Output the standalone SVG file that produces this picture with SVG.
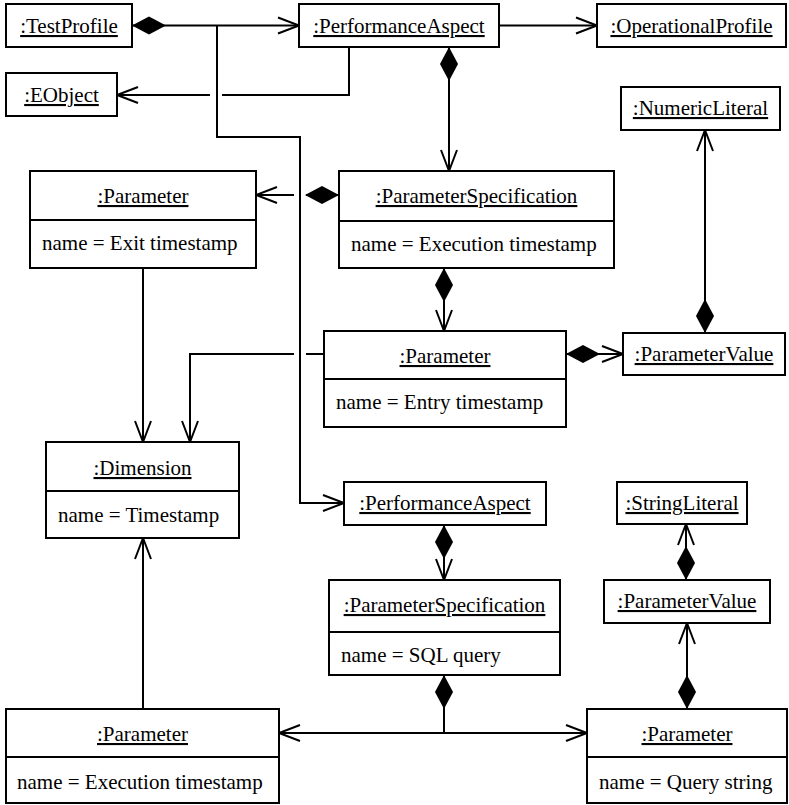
<svg xmlns="http://www.w3.org/2000/svg" width="789" height="805" viewBox="0 0 789 805">
  <defs>
    <style>
      .box { fill: #fff; stroke: #000; stroke-width: 2; }
      .sep { stroke: #000; stroke-width: 2; }
      .name { font-family: "Liberation Serif", "Times New Roman", serif; font-size: 21px; fill: #000; text-anchor: middle; text-decoration: underline; }
      .attr { font-family: "Liberation Serif", "Times New Roman", serif; font-size: 21px; fill: #000; }
      .link { fill: none; stroke: #000; stroke-width: 2; }
      .owned { marker-start: url(#diamond); }
      .nav { marker-end: url(#arrow); }
    </style>
    <!-- open navigability arrowhead -->
    <marker id="arrow" markerUnits="userSpaceOnUse" markerWidth="30" markerHeight="30" refX="0" refY="0" orient="auto" overflow="visible">
      <path d="M-21,-8 L0,0 L-21,8" fill="none" stroke="#000" stroke-width="2"/>
    </marker>
    <!-- filled composition diamond -->
    <marker id="diamond" markerUnits="userSpaceOnUse" markerWidth="40" markerHeight="20" refX="0" refY="0" orient="auto" overflow="visible">
      <path d="M0,0 L17,-9 L34,0 L17,9 Z" fill="#000" stroke="none"/>
    </marker>
  </defs>

  <rect width="789" height="805" fill="#fff"/>

  <!-- connectors -->
  <g id="connectors">
    <path class="link owned nav" d="M132,25.5 L299,25.5"/>
    <path class="link nav" d="M217,25.5 L217,137 L300,137 L300,503 L344,503"/>
    <path class="link" d="M349,47 L349,95 L222,95"/>
    <path class="link nav" d="M210,95 L117,95"/>
    <path class="link nav" d="M499,25.5 L597,25.5"/>
    <path class="link owned nav" d="M449,47 L449,171"/>
    <path class="link owned" d="M339,195 L306,195"/>
    <path class="link nav" d="M294,195 L256,195"/>
    <path class="link owned nav" d="M444,268 L444,331"/>
    <path class="link" d="M324,354 L306,354"/>
    <path class="link nav" d="M294,354 L190,354 L190,442"/>
    <path class="link nav" d="M143,268 L143,442"/>
    <path class="link owned nav" d="M566,354 L623,354"/>
    <path class="link owned nav" d="M705,333 L705,130"/>
    <path class="link owned nav" d="M444,525 L444,580"/>
    <path class="link owned nav" d="M686,580 L686,524"/>
    <path class="link owned nav" d="M687,709 L687,623"/>
    <path class="link owned" d="M444,675 L444,733"/>
    <path class="link nav" d="M444,733 L279,733"/>
    <path class="link nav" d="M444,733 L587,733"/>
    <path class="link nav" d="M143,709 L143,538"/>
  </g>

  <!-- objects -->
  <g id="testProfile">
    <rect class="box" x="6" y="4" width="126" height="43"/>
    <text class="name" x="69" y="33">:TestProfile</text>
  </g>
  <g id="performanceAspect1">
    <rect class="box" x="299" y="4" width="200" height="43"/>
    <text class="name" x="399" y="33">:PerformanceAspect</text>
  </g>
  <g id="operationalProfile">
    <rect class="box" x="597" y="4" width="189" height="43"/>
    <text class="name" x="691.5" y="33">:OperationalProfile</text>
  </g>
  <g id="eObject">
    <rect class="box" x="6" y="73" width="111" height="43"/>
    <text class="name" x="61.5" y="102">:EObject</text>
  </g>
  <g id="numericLiteral">
    <rect class="box" x="621" y="87" width="159" height="43"/>
    <text class="name" x="700.5" y="115">:NumericLiteral</text>
  </g>
  <g id="parameterExit">
    <rect class="box" x="30" y="171" width="226" height="97"/>
    <line class="sep" x1="30" y1="220" x2="256" y2="220"/>
    <text class="name" x="143" y="203">:Parameter</text>
    <text class="attr" x="42" y="250">name = Exit timestamp</text>
  </g>
  <g id="parameterSpecification1">
    <rect class="box" x="339" y="171" width="275" height="97"/>
    <line class="sep" x1="339" y1="221" x2="614" y2="221"/>
    <text class="name" x="476.5" y="203">:ParameterSpecification</text>
    <text class="attr" x="351" y="251">name = Execution timestamp</text>
  </g>
  <g id="parameterEntry">
    <rect class="box" x="324" y="331" width="242" height="96"/>
    <line class="sep" x1="324" y1="379" x2="566" y2="379"/>
    <text class="name" x="445" y="363">:Parameter</text>
    <text class="attr" x="336" y="409">name = Entry timestamp</text>
  </g>
  <g id="parameterValue1">
    <rect class="box" x="623" y="333" width="162" height="42"/>
    <text class="name" x="704" y="361">:ParameterValue</text>
  </g>
  <g id="dimension">
    <rect class="box" x="46" y="442" width="193" height="96"/>
    <line class="sep" x1="46" y1="491" x2="239" y2="491"/>
    <text class="name" x="142.5" y="475">:Dimension</text>
    <text class="attr" x="58" y="522">name = Timestamp</text>
  </g>
  <g id="performanceAspect2">
    <rect class="box" x="344" y="482" width="202" height="43"/>
    <text class="name" x="445" y="510">:PerformanceAspect</text>
  </g>
  <g id="stringLiteral">
    <rect class="box" x="617" y="482" width="130" height="42"/>
    <text class="name" x="682" y="510">:StringLiteral</text>
  </g>
  <g id="parameterSpecification2">
    <rect class="box" x="329" y="580" width="231" height="95"/>
    <line class="sep" x1="329" y1="632" x2="560" y2="632"/>
    <text class="name" x="444.5" y="612">:ParameterSpecification</text>
    <text class="attr" x="341" y="662">name = SQL query</text>
  </g>
  <g id="parameterValue2">
    <rect class="box" x="604" y="580" width="166" height="43"/>
    <text class="name" x="687" y="608">:ParameterValue</text>
  </g>
  <g id="parameterExecution">
    <rect class="box" x="6" y="709" width="273" height="94"/>
    <line class="sep" x1="6" y1="757" x2="279" y2="757"/>
    <text class="name" x="142.5" y="741">:Parameter</text>
    <text class="attr" x="17" y="789">name = Execution timestamp</text>
  </g>
  <g id="parameterQuery">
    <rect class="box" x="587" y="709" width="200" height="94"/>
    <line class="sep" x1="587" y1="757" x2="787" y2="757"/>
    <text class="name" x="687" y="741">:Parameter</text>
    <text class="attr" x="599" y="789">name = Query string</text>
  </g>
</svg>
